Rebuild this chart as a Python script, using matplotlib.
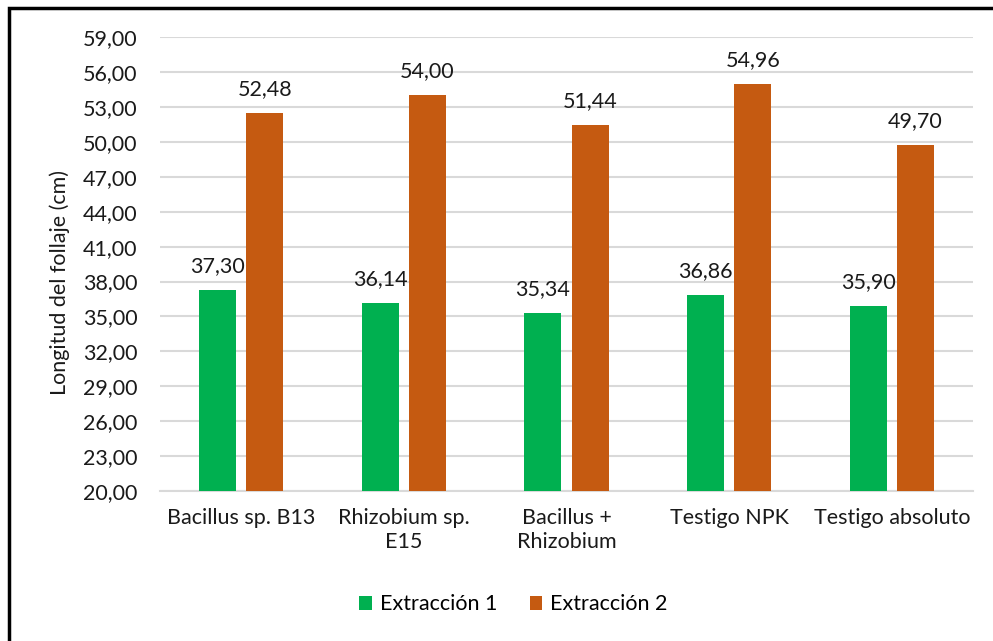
import matplotlib.pyplot as plt
import numpy as np
from matplotlib.patches import Rectangle

plt.rcParams['font.family'] = ['Lato', 'DejaVu Sans']

categorias = ["Bacillus sp. B13", "Rhizobium sp.\nE15", "Bacillus +\nRhizobium", "Testigo NPK", "Testigo absoluto"]
extraccion1 = [37.30, 36.14, 35.34, 36.86, 35.90]
extraccion2 = [52.48, 54.00, 51.44, 54.96, 49.70]
yticks = np.arange(20, 60, 3)

verde = "#00B050"
naranja = "#C55A11"
texto = "#1a1a1a"

fig = plt.figure(figsize=(9.93, 6.41), dpi=100)
ax = fig.add_axes([0.161, 0.234, 0.819, 0.708])

x = np.arange(len(categorias))
ancho = 0.227
b1 = ax.bar(x - 0.145, np.array(extraccion1) - 20, ancho, bottom=20, color=verde, label="Extracción 1", zorder=3)
b2 = ax.bar(x + 0.145, np.array(extraccion2) - 20, ancho, bottom=20, color=naranja, label="Extracción 2", zorder=3)

for barras, vals in ((b1, extraccion1), (b2, extraccion2)):
    for r, v in zip(barras, vals):
        ax.annotate(f"{v:.2f}".replace(".", ","), (r.get_x() + r.get_width() / 2, v),
                    xytext=(0, 10), textcoords="offset points", ha="center", va="bottom",
                    fontsize=15.5, color=texto)

ax.set_ylim(20, 59)
ax.set_xlim(-0.5, len(categorias) - 0.5)
ax.set_yticks(yticks)
ax.set_yticklabels([f"{t:.2f}".replace(".", ",") for t in yticks], fontsize=15.5, color=texto)
ax.set_xticks(x)
ax.set_xticklabels(categorias, fontsize=15.5, color=texto, linespacing=1.25)
ax.tick_params(axis="y", length=0, pad=16)
ax.tick_params(axis="x", length=0, pad=12)
ax.yaxis.grid(True, color="#D9D9D9", linewidth=1.5, zorder=0)
for s in ("top", "right", "left"):
    ax.spines[s].set_visible(False)
ax.spines["bottom"].set_color("#D9D9D9")
ax.spines["bottom"].set_linewidth(1.5)
ax.set_ylabel("Longitud del follaje (cm)", fontsize=15.5, color=texto)
ax.yaxis.set_label_coords(-0.111, 0.46)

fig.legend(handles=[b1, b2], loc="center", bbox_to_anchor=(0.517, 0.057), ncol=2, frameon=False,
           fontsize=15.5, handlelength=0.6, handleheight=0.6, handletextpad=0.35, columnspacing=1.5)

# contorno del gráfico (solo borde superior e izquierdo visibles)
fig.add_artist(Rectangle((9 / 993, -0.1), 1.2, 1.1 - 8.5 / 641, transform=fig.transFigure,
                         fill=False, edgecolor="black", linewidth=2.5))

fig.savefig("out.png", dpi=100)
